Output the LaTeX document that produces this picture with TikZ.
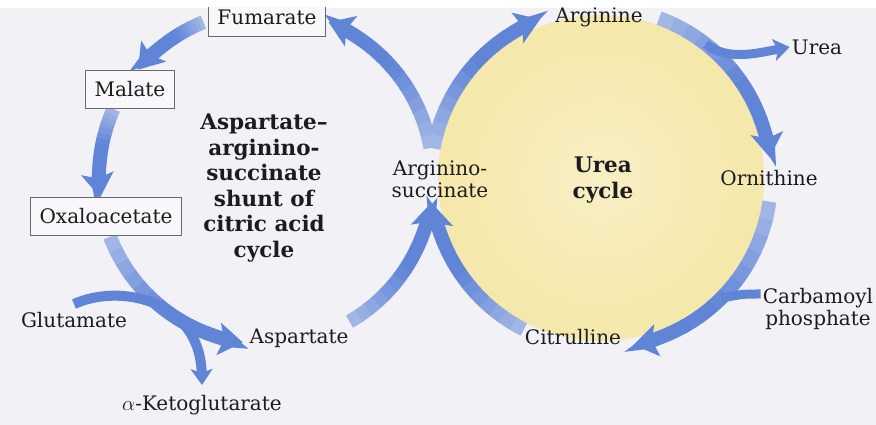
\documentclass[tikz,border=0pt]{standalone}
\usepackage{fontspec}
\setmainfont{DejaVu Serif}
\usetikzlibrary{arrows.meta,calc}
\definecolor{flowBlue}{RGB}{96,132,214}
\definecolor{flowPale}{RGB}{196,209,238}
\definecolor{paperGray}{RGB}{241,241,246}
\definecolor{ureaYellow}{RGB}{245,232,170}
\definecolor{boxLine}{RGB}{105,105,112}
\definecolor{inkText}{RGB}{28,28,32}

\tikzset{
  flow/.style={line width=14pt},
  flowhead/.style={-{Stealth[length=24pt,width=32pt,inset=5pt]}},
  sidehead/.style={-{Stealth[length=16pt,width=22pt,inset=4pt]}},
  metab/.style={font=\fontsize{20}{22}\selectfont, text=inkText, inner sep=2pt},
  metabbox/.style={metab, draw=boxLine, fill=paperGray!50!white, line width=0.9pt,
    inner xsep=9pt, minimum height=38pt},
  cyclename/.style={font=\bfseries\fontsize{21.5}{25.5}\selectfont, align=center, text=inkText}
}

% ring arrow fading from pale tail to dark head: centre, radius, start, end
\newcommand{\flowarc}[4]{%
  \pgfmathsetmacro{\headA}{#4-13*sign(#4-#3)}
  \foreach \k in {0,...,9}{
    \pgfmathsetmacro{\angA}{#3+(\headA-#3)*\k/10}
    \pgfmathsetmacro{\angB}{#3+(\headA-#3)*(\k+1.1)/10}
    \pgfmathsetmacro{\mixv}{min(100,35+90*\k/9)}
    \draw[flow,flowBlue!\mixv!flowPale] ($(#1)+(\angA:#2)$) arc[start angle=\angA,end angle=\angB,radius=#2];
  }
  \draw[flow,flowBlue,flowhead] ($(#1)+(\headA:#2)$) arc[start angle=\headA,end angle=#4,radius=#2];
}

\begin{document}
\begin{tikzpicture}[x=1pt,y=1pt]
    \useasboundingbox (0,0) rectangle (876,425);
    \fill[paperGray] (0,0) rectangle (876,417);
    \begin{scope}
      \clip (0,0) rectangle (876,417);
      \coordinate (Lc) at (266,248);
      \coordinate (Rc) at (601,247);
      \shade[inner color=ureaYellow!70!white, outer color=ureaYellow] (Rc) circle[radius=163];

      % urea cycle
      \flowarc{Rc}{170}{170}{111}
      \flowarc{Rc}{170}{70}{7}
      \flowarc{Rc}{170}{-8}{-79}
      \flowarc{Rc}{170}{243}{189}
      % aspartate-argininosuccinate shunt
      \flowarc{Lc}{167}{-60}{-9}
      \flowarc{Lc}{167}{10}{68}
      \flowarc{Lc}{167}{112}{140}
      \flowarc{Lc}{167}{156}{187}
      \flowarc{Lc}{167}{201}{262}

      \node[metabbox] (fum) at (267,408) {Fumarate};
      \node[metabbox] (mal) at (130,336) {Malate};
      \node[metabbox] (oxa) at (106,209) {Oxaloacetate};
      \node[metab] (asp) at (299,87) {Aspartate};
      \node[metab] (glu) at (74,105) {Glutamate};
      \node[metab] (akg) at (202,20) {$\alpha$-Ketoglutarate};
      \node[metab,align=center] (argsuc) at (440,246) {Arginino-\\succinate};
      \node[metab] (arg) at (599,408) {Arginine};
      \node[metab] (urea) at (817,378) {Urea};
      \node[metab] (orn) at (769,247) {Ornithine};
      \node[metab,align=center] (carb) at (818,116) {Carbamoyl\\phosphate};
      \node[metab] (cit) at (573,88) {Citrulline};
      \node[cyclename] (shunt) at (264,237) {Aspartate–\\arginino-\\succinate\\shunt of\\citric acid\\cycle};
      \node[cyclename] (ureacyc) at (603,245) {Urea\\cycle};

      % side reactions
      \draw[line width=10pt,flowBlue,sidehead] ([yshift=6pt]glu.north) .. controls (120,142) and (200,125) .. ([yshift=8pt]akg.north);
      \draw[line width=9pt,flowBlue,sidehead] ($(Rc)+(52:170)$) .. controls +(-38:28) and (758,372) .. (urea.west);
      \draw[line width=9pt,flowBlue] ([yshift=15pt]carb.west) .. controls +(-18,0) .. ($(Rc)+(-45:170)$);
    \end{scope}
\end{tikzpicture}
\end{document}
